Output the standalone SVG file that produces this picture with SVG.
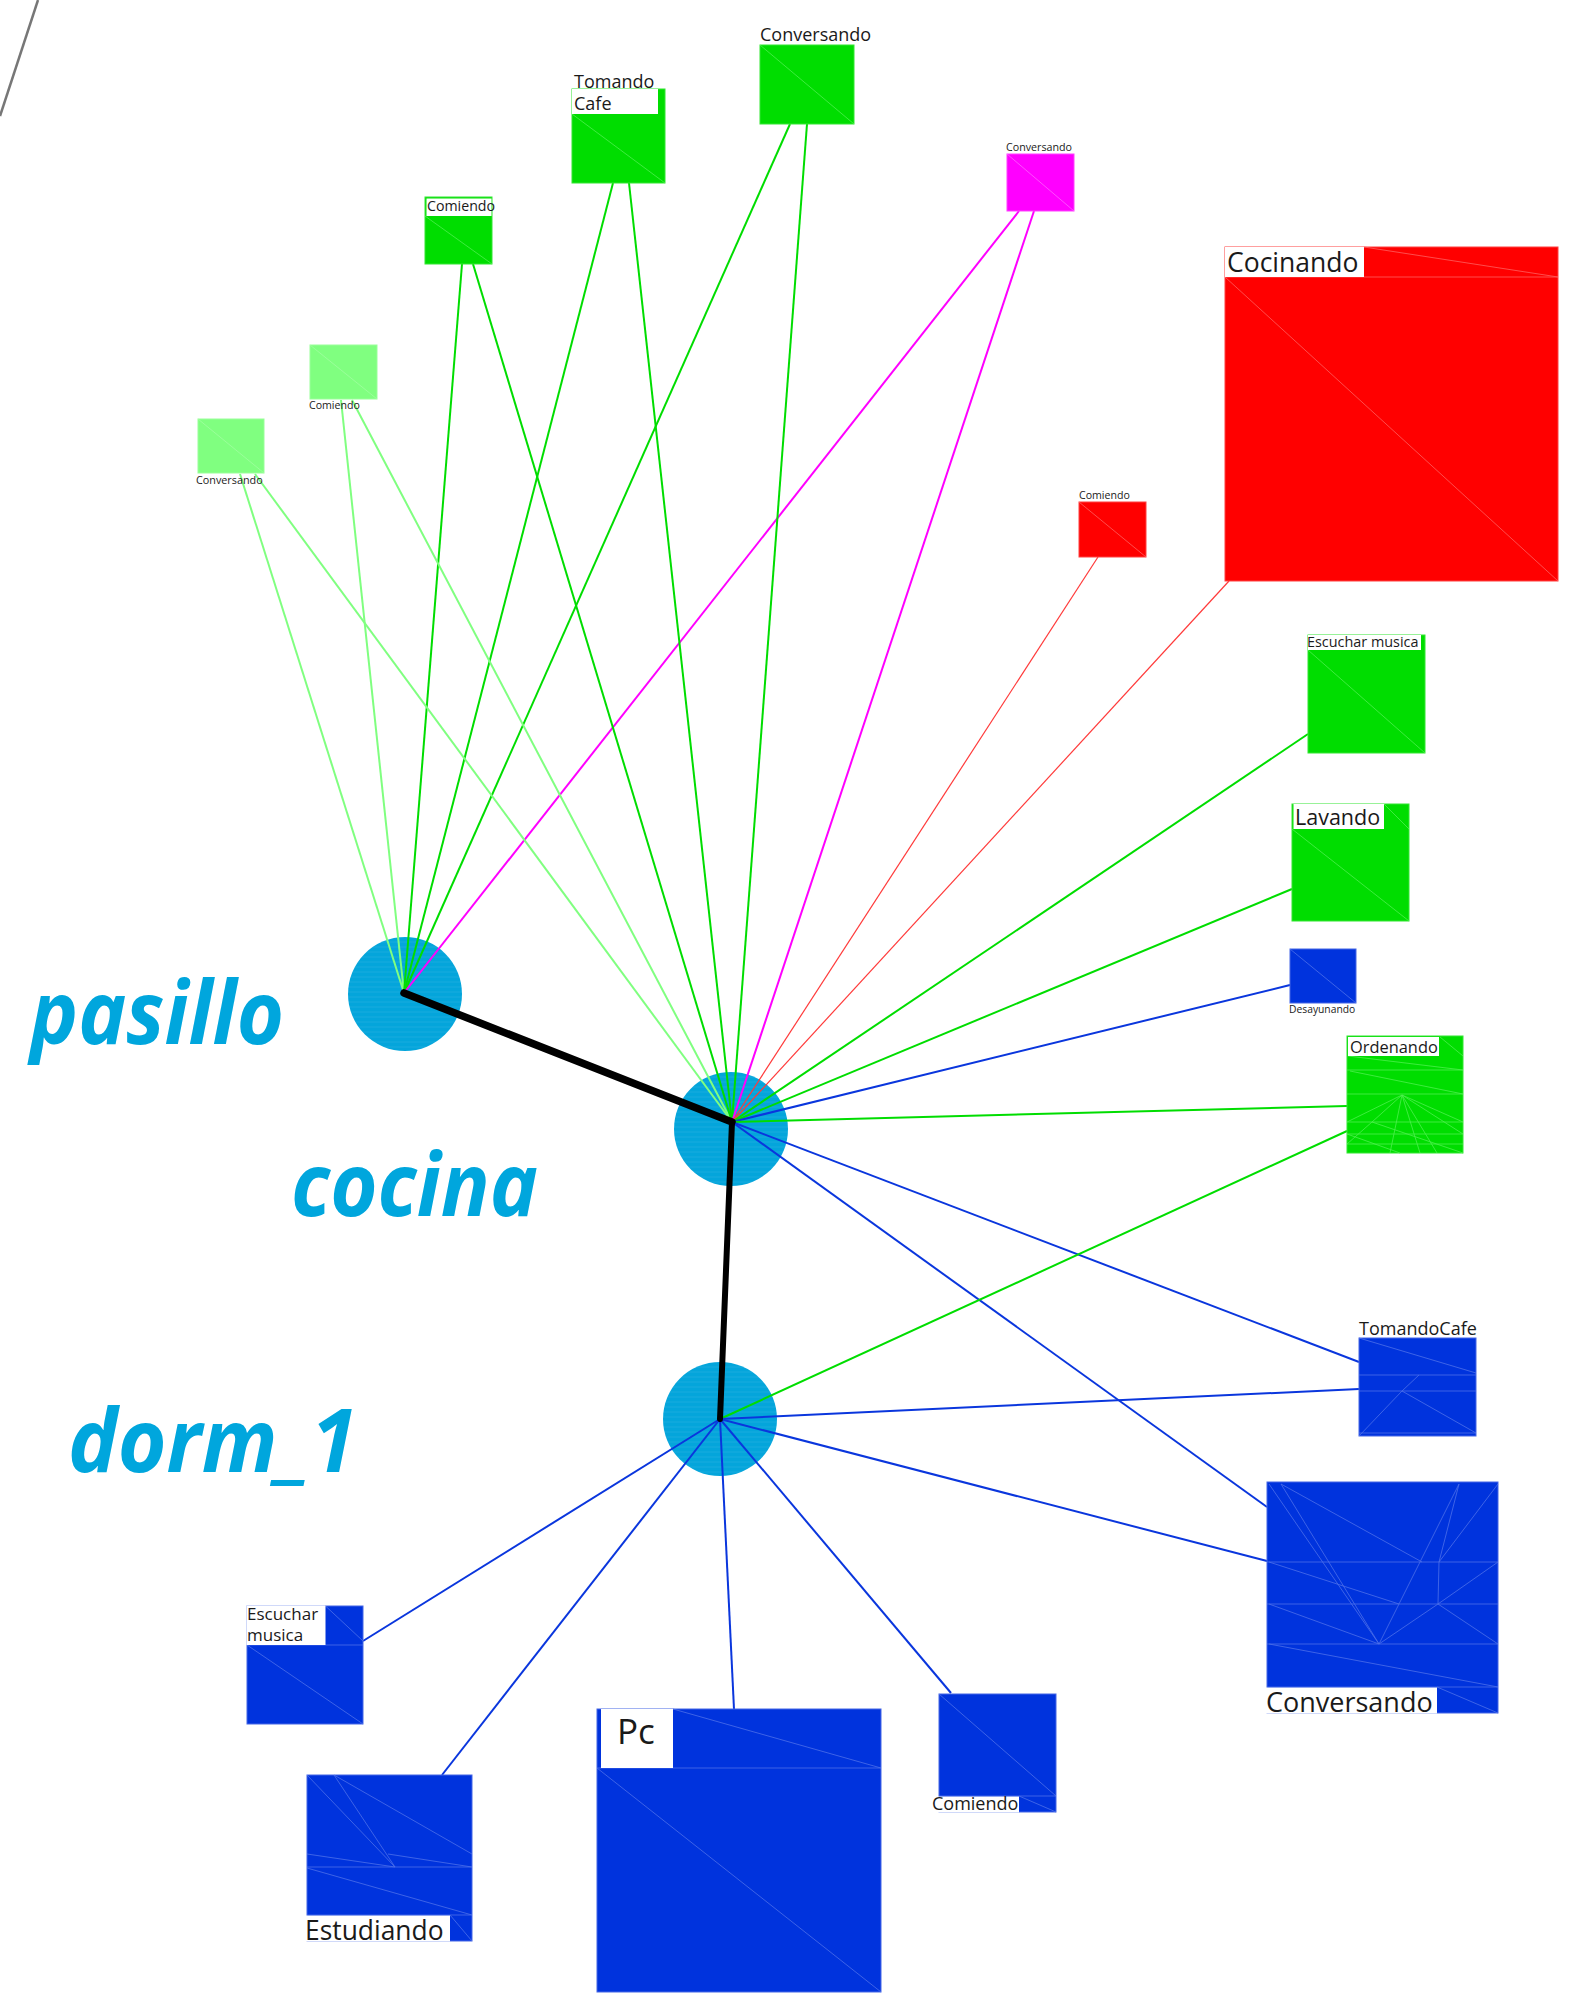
<svg xmlns="http://www.w3.org/2000/svg" width="1586" height="1997" viewBox="0 0 1586 1997">
<style>
.lbl{font-family:"Open Sans","Liberation Sans",sans-serif;fill:#1a1a1a}
.room{font-family:"Open Sans","Liberation Sans",sans-serif;font-weight:700;font-style:italic;fill:#00a6dd}
.fg{fill:#00dd00;stroke:#33e633;stroke-width:1}
.flg{fill:#80ff80;stroke:#99ff99;stroke-width:1}
.fm{fill:#ff00ff;stroke:#ff40ff;stroke-width:1}
.fr{fill:#ff0000;stroke:#ff4040;stroke-width:1}
.fb{fill:#0033dd;stroke:#4466e6;stroke-width:1}
.wbg{fill:#ffffff}
.mg{stroke:#4ef04e;stroke-width:0.8;fill:none}
.mlg{stroke:#a0ffa0;stroke-width:0.8;fill:none}
.mm{stroke:#ff60ff;stroke-width:0.8;fill:none}
.mr{stroke:#ff6060;stroke-width:0.8;fill:none}
.mb{stroke:#4d70ea;stroke-width:0.8;fill:none}
.lg{stroke:#80ff80;stroke-width:2}
.g{stroke:#00dd00;stroke-width:2}
.m{stroke:#ff00ff;stroke-width:2}
.r{stroke:#ff3a3a;stroke-width:1.2}
.b{stroke:#0a36dd;stroke-width:2}
.k{stroke:#000000;stroke-linecap:round;stroke-linejoin:round;fill:none}
.hub{fill:url(#streak)}
</style>
<defs>
<pattern id="streak" patternUnits="userSpaceOnUse" width="40" height="5">
<rect width="40" height="5" fill="#04a5db"/>
<line x1="0" y1="2" x2="40" y2="2" stroke="#3ab8e6" stroke-width="0.6" opacity="0.6"/>
</pattern>
</defs>
<rect width="1586" height="1997" fill="#ffffff"/>

<line x1="0" y1="116" x2="38" y2="0" stroke="#777777" stroke-width="2.5"/>

<g id="hub-pasillo"><circle class="hub" cx="405" cy="994" r="57"/></g>
<g id="hub-cocina"><circle class="hub" cx="731" cy="1129" r="57"/></g>
<g id="hub-dorm_1"><circle class="hub" cx="720" cy="1419" r="57"/></g>

<g id="room-pasillo"><text class="room" x="30" y="1044" font-size="88" textLength="254" lengthAdjust="spacingAndGlyphs">pasillo</text></g>
<g id="room-cocina"><text class="room" x="291" y="1216" font-size="88" textLength="247" lengthAdjust="spacingAndGlyphs">cocina</text></g>
<g id="room-dorm_1"><text class="room" x="68" y="1472" font-size="88" textLength="289" lengthAdjust="spacingAndGlyphs">dorm_1</text></g>

<g id="connectors">
<line class="lg" x1="404" y1="993" x2="240" y2="474"/>
<line class="lg" x1="404" y1="993" x2="341" y2="400"/>
<line class="g" x1="404" y1="993" x2="462" y2="264"/>
<line class="g" x1="404" y1="993" x2="613" y2="183"/>
<line class="g" x1="404" y1="993" x2="790" y2="124"/>
<line class="m" x1="404" y1="993" x2="1019" y2="211"/>
<line class="lg" x1="732" y1="1122" x2="255" y2="474"/>
<line class="lg" x1="732" y1="1122" x2="352" y2="400"/>
<line class="g" x1="732" y1="1122" x2="473" y2="264"/>
<line class="g" x1="732" y1="1122" x2="629" y2="183"/>
<line class="g" x1="732" y1="1122" x2="807" y2="124"/>
<line class="m" x1="732" y1="1122" x2="1034" y2="211"/>
<line class="r" x1="732" y1="1122" x2="1098" y2="557"/>
<line class="r" x1="732" y1="1122" x2="1229" y2="581"/>
<line class="g" x1="732" y1="1122" x2="1308" y2="734"/>
<line class="g" x1="732" y1="1122" x2="1292" y2="889"/>
<line class="b" x1="732" y1="1122" x2="1290" y2="985"/>
<line class="g" x1="732" y1="1122" x2="1347" y2="1106"/>
<line class="b" x1="732" y1="1122" x2="1359" y2="1362"/>
<line class="b" x1="732" y1="1122" x2="1267" y2="1507"/>
<line class="g" x1="720" y1="1419" x2="1347" y2="1131"/>
<line class="b" x1="720" y1="1419" x2="1359" y2="1389"/>
<line class="b" x1="720" y1="1419" x2="1267" y2="1561"/>
<line class="b" x1="720" y1="1419" x2="951" y2="1693"/>
<line class="b" x1="720" y1="1419" x2="734" y2="1709"/>
<line class="b" x1="720" y1="1419" x2="442" y2="1775"/>
<line class="b" x1="720" y1="1419" x2="363" y2="1641"/>
<line class="k" x1="404" y1="993" x2="732" y2="1122" stroke-width="7.5"/>
<line class="k" x1="732" y1="1122" x2="720" y2="1419" stroke-width="6"/>
</g>

<g id="n-conversando-verde">
<rect class="fg" x="760" y="45" width="94" height="79"/>
<line class="mg" x1="760" y1="45" x2="854" y2="124"/>
<text class="lbl" x="760" y="41" font-size="18">Conversando</text>
</g>

<g id="n-tomando-cafe-verde">
<rect class="fg" x="572" y="89" width="93" height="94"/>
<line class="mg" x1="572" y1="114" x2="665" y2="183"/>
<rect class="wbg" x="572" y="89" width="86" height="25"/>
<text class="lbl" x="574" y="88" font-size="18">Tomando</text>
<text class="lbl" x="574" y="110" font-size="18">Cafe</text>
</g>

<g id="n-comiendo-verde">
<rect class="fg" x="425" y="197" width="67" height="67"/>
<line class="mg" x1="425" y1="216" x2="492" y2="264"/>
<rect class="wbg" x="426.5" y="198.5" width="65" height="17.5"/>
<text class="lbl" x="427" y="211" font-size="14.2">Comiendo</text>
</g>

<g id="n-comiendo-claro">
<rect class="flg" x="310" y="345" width="67" height="54"/>
<line class="mlg" x1="310" y1="345" x2="377" y2="399"/>
<text class="lbl" x="309" y="409" font-size="10.6">Comiendo</text>
</g>

<g id="n-conversando-claro">
<rect class="flg" x="198" y="419" width="66" height="54"/>
<line class="mlg" x1="198" y1="419" x2="264" y2="473"/>
<text class="lbl" x="196" y="484" font-size="10.8">Conversando</text>
</g>

<g id="n-conversando-magenta">
<rect class="fm" x="1007" y="154" width="67" height="57"/>
<line class="mm" x1="1007" y1="154" x2="1074" y2="211"/>
<text class="lbl" x="1006" y="151" font-size="10.7">Conversando</text>
</g>

<g id="n-comiendo-rojo">
<rect class="fr" x="1079" y="502" width="67" height="55"/>
<line class="mr" x1="1079" y1="502" x2="1146" y2="557"/>
<text class="lbl" x="1079" y="499" font-size="10.6">Comiendo</text>
</g>

<g id="n-cocinando">
<rect class="fr" x="1225" y="247" width="333" height="334"/>
<line class="mr" x1="1364" y1="247" x2="1558" y2="277"/>
<line class="mr" x1="1225" y1="277" x2="1558" y2="277"/>
<line class="mr" x1="1225" y1="277" x2="1558" y2="581"/>
<rect class="wbg" x="1225" y="247" width="139" height="30"/>
<text class="lbl" x="1227" y="272" font-size="26.5">Cocinando</text>
</g>

<g id="n-escuchar-musica-verde">
<rect class="fg" x="1308" y="635" width="117" height="118"/>
<line class="mg" x1="1308" y1="650" x2="1425" y2="753"/>
<rect class="wbg" x="1308" y="635" width="113" height="15"/>
<text class="lbl" x="1307" y="647" font-size="14.4">Escuchar musica</text>
</g>

<g id="n-lavando">
<rect class="fg" x="1292" y="804" width="117" height="117"/>
<line class="mg" x1="1384" y1="804" x2="1409" y2="829"/>
<line class="mg" x1="1292" y1="829" x2="1409" y2="921"/>
<rect class="wbg" x="1293.5" y="804" width="90.5" height="25"/>
<text class="lbl" x="1295" y="825" font-size="21.5">Lavando</text>
</g>

<g id="n-desayunando">
<rect class="fb" x="1290" y="949" width="66" height="54"/>
<line class="mb" x1="1290" y1="949" x2="1356" y2="1003"/>
<text class="lbl" x="1289" y="1013" font-size="10.3">Desayunando</text>
</g>

<g id="n-ordenando">
<rect class="fg" x="1347" y="1036" width="116" height="117"/>
<line class="mg" x1="1440" y1="1037" x2="1463" y2="1056"/>
<line class="mg" x1="1348" y1="1056" x2="1463" y2="1070"/>
<line class="mg" x1="1347" y1="1070" x2="1463" y2="1070"/>
<line class="mg" x1="1350" y1="1071" x2="1463" y2="1094"/>
<line class="mg" x1="1347" y1="1094" x2="1463" y2="1094"/>
<line class="mg" x1="1347" y1="1122" x2="1463" y2="1122"/>
<line class="mg" x1="1347" y1="1134" x2="1463" y2="1134"/>
<line class="mg" x1="1347" y1="1144" x2="1463" y2="1144"/>
<line class="mg" x1="1402" y1="1095" x2="1347" y2="1122"/>
<line class="mg" x1="1402" y1="1095" x2="1372" y2="1122"/>
<line class="mg" x1="1402" y1="1095" x2="1390" y2="1153"/>
<line class="mg" x1="1402" y1="1095" x2="1420" y2="1153"/>
<line class="mg" x1="1402" y1="1095" x2="1437" y2="1153"/>
<line class="mg" x1="1402" y1="1095" x2="1463" y2="1134"/>
<line class="mg" x1="1402" y1="1095" x2="1463" y2="1122"/>
<line class="mg" x1="1347" y1="1144" x2="1372" y2="1122"/>
<line class="mg" x1="1372" y1="1122" x2="1463" y2="1153"/>
<line class="mg" x1="1347" y1="1134" x2="1400" y2="1153"/>
<rect class="wbg" x="1348" y="1037" width="91" height="19"/>
<text class="lbl" x="1350" y="1053" font-size="16.4">Ordenando</text>
</g>

<g id="n-tomandocafe-azul">
<rect class="fb" x="1359" y="1338" width="117" height="98"/>
<line class="mb" x1="1359" y1="1338" x2="1476" y2="1373"/>
<line class="mb" x1="1359" y1="1375" x2="1476" y2="1375"/>
<line class="mb" x1="1359" y1="1391" x2="1476" y2="1391"/>
<line class="mb" x1="1402" y1="1391" x2="1419" y2="1375"/>
<line class="mb" x1="1359" y1="1436" x2="1402" y2="1391"/>
<line class="mb" x1="1402" y1="1391" x2="1476" y2="1433"/>
<line class="mb" x1="1359" y1="1433" x2="1476" y2="1433"/>
<text class="lbl" x="1359" y="1335" font-size="18">TomandoCafe</text>
</g>

<g id="n-conversando-azul">
<rect class="fb" x="1267" y="1482" width="231" height="231"/>
<line class="mb" x1="1269" y1="1484" x2="1379" y2="1644"/>
<line class="mb" x1="1281" y1="1484" x2="1379" y2="1644"/>
<line class="mb" x1="1281" y1="1484" x2="1422" y2="1562"/>
<line class="mb" x1="1459" y1="1484" x2="1379" y2="1644"/>
<line class="mb" x1="1459" y1="1484" x2="1439" y2="1562"/>
<line class="mb" x1="1498" y1="1484" x2="1439" y2="1562"/>
<line class="mb" x1="1267" y1="1562" x2="1498" y2="1562"/>
<line class="mb" x1="1439" y1="1562" x2="1438" y2="1604"/>
<line class="mb" x1="1438" y1="1604" x2="1498" y2="1562"/>
<line class="mb" x1="1438" y1="1604" x2="1498" y2="1644"/>
<line class="mb" x1="1267" y1="1604" x2="1498" y2="1604"/>
<line class="mb" x1="1269" y1="1562" x2="1399" y2="1604"/>
<line class="mb" x1="1379" y1="1644" x2="1438" y2="1604"/>
<line class="mb" x1="1269" y1="1604" x2="1379" y2="1644"/>
<line class="mb" x1="1267" y1="1644" x2="1498" y2="1644"/>
<line class="mb" x1="1269" y1="1644" x2="1498" y2="1687"/>
<line class="mb" x1="1267" y1="1687" x2="1498" y2="1687"/>
<line class="mb" x1="1437" y1="1687" x2="1498" y2="1713"/>
<rect class="wbg" x="1266" y="1687.5" width="171" height="26"/>
<text class="lbl" x="1266" y="1712" font-size="27">Conversando</text>
</g>

<g id="n-comiendo-azul">
<rect class="fb" x="939" y="1694" width="117" height="118"/>
<line class="mb" x1="939" y1="1694" x2="1056" y2="1796"/>
<line class="mb" x1="939" y1="1796" x2="1056" y2="1796"/>
<line class="mb" x1="1019" y1="1796" x2="1056" y2="1812"/>
<rect class="wbg" x="932" y="1796.5" width="87" height="16"/>
<text class="lbl" x="932" y="1810" font-size="18">Comiendo</text>
</g>

<g id="n-pc">
<rect class="fb" x="597" y="1709" width="284" height="283"/>
<line class="mb" x1="673" y1="1709" x2="881" y2="1768"/>
<line class="mb" x1="597" y1="1768" x2="881" y2="1768"/>
<line class="mb" x1="597" y1="1768" x2="881" y2="1992"/>
<rect class="wbg" x="601" y="1709" width="72" height="59"/>
<text class="lbl" x="617" y="1744" font-size="35">Pc</text>
</g>

<g id="n-estudiando">
<rect class="fb" x="307" y="1775" width="165" height="166"/>
<line class="mb" x1="307" y1="1775" x2="395" y2="1867"/>
<line class="mb" x1="334" y1="1775" x2="395" y2="1867"/>
<line class="mb" x1="334" y1="1775" x2="472" y2="1854"/>
<line class="mb" x1="307" y1="1854" x2="395" y2="1867"/>
<line class="mb" x1="388" y1="1854" x2="472" y2="1867"/>
<line class="mb" x1="307" y1="1867" x2="472" y2="1867"/>
<line class="mb" x1="307" y1="1868" x2="472" y2="1915"/>
<line class="mb" x1="307" y1="1915" x2="472" y2="1915"/>
<line class="mb" x1="450" y1="1915" x2="472" y2="1941"/>
<rect class="wbg" x="304" y="1915.5" width="146" height="26"/>
<text class="lbl" x="305" y="1940" font-size="26.4">Estudiando</text>
</g>

<g id="n-escuchar-musica-azul">
<rect class="fb" x="247" y="1606" width="116" height="118"/>
<line class="mb" x1="325.5" y1="1606" x2="363" y2="1641"/>
<line class="mb" x1="247" y1="1645" x2="363" y2="1645"/>
<line class="mb" x1="247" y1="1645" x2="363" y2="1724"/>
<rect class="wbg" x="246.5" y="1605.5" width="79" height="39.5"/>
<text class="lbl" x="247" y="1620" font-size="17">Escuchar</text>
<text class="lbl" x="247" y="1641" font-size="17">musica</text>
</g>
</svg>
